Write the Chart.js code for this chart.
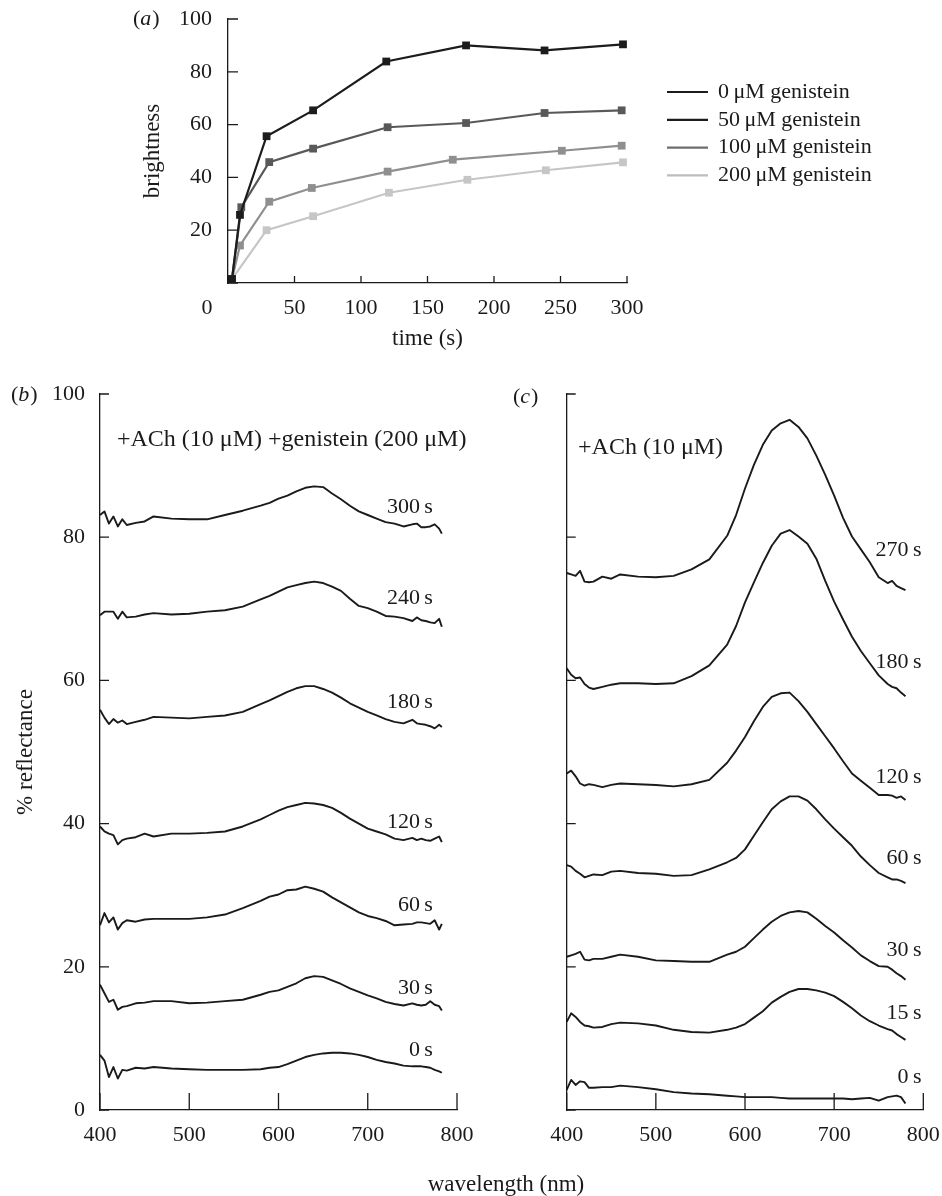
<!DOCTYPE html>
<html>
<head>
<meta charset="utf-8">
<script src="https://cdn.jsdelivr.net/npm/chart.js@4.4.0/dist/chart.umd.min.js"></script>
<style>
  body { margin: 0; background: #fff; }
  #wrap { position: relative; width: 942px; height: 1196px; }
  #wrap canvas { position: absolute; left: 0; top: 0; }
</style>
</head>
<body>
<div id="wrap">
  <canvas id="chartA" width="942" height="1196"></canvas>
  <canvas id="chartB" width="942" height="1196"></canvas>
  <canvas id="chartC" width="942" height="1196"></canvas>
</div>
<script>
// ---- panel (a): brightness vs time ----
const timeTicks = [0, 50, 100, 150, 200, 250, 300];
const brightTicks = [0, 20, 40, 60, 80, 100];
const genisteinLabels = ['0\u2009\u03bcM genistein', '50\u2009\u03bcM genistein', '100\u2009\u03bcM genistein', '200\u2009\u03bcM genistein'];

const time0 = [3, 9, 29, 64, 119, 179, 238, 297];
const bright0 = [1.5, 25.8, 55.6, 65.4, 83.9, 90.0, 88.1, 90.4];
const time50 = [3, 10, 31, 64, 120, 179, 238, 296];
const bright50 = [1.5, 28.7, 45.8, 50.9, 59.0, 60.6, 64.4, 65.4];
const time100 = [3, 9, 31, 63, 120, 169, 251, 296];
const bright100 = [1.5, 14.2, 30.8, 36.0, 42.2, 46.7, 50.1, 52.0];
const time200 = [3, 29, 64, 121, 180, 239, 297];
const bright200 = [1.5, 20.0, 25.3, 34.2, 39.1, 42.7, 45.7];

// ---- panels (b) and (c): % reflectance vs wavelength ----
const waveTicks = [400, 500, 600, 700, 800];
const reflTicks = [0, 20, 40, 60, 80, 100];

const bWave = [400,405,410,415,420,425,430,440,450,460,480,500,520,540,560,580,590,600,610,620,630,640,650,660,670,680,690,700,710,720,730,740,750,755,760,765,770,775,780,783];
const b0   = [7.7,6.9,4.6,6.0,4.4,5.6,5.5,5.9,5.8,6.0,5.8,5.7,5.6,5.6,5.6,5.7,5.9,6.0,6.4,6.9,7.4,7.7,7.9,8.0,8.0,7.9,7.7,7.4,7.0,6.7,6.5,6.2,6.1,6.1,6.1,6.0,5.9,5.6,5.4,5.2];
const b30  = [17.5,16.3,15.1,15.4,14.0,14.4,14.5,14.9,15.0,15.2,15.2,14.9,15.0,15.2,15.4,16.1,16.5,16.7,17.2,17.7,18.4,18.7,18.6,18.1,17.6,17.0,16.5,16.0,15.6,15.1,14.8,14.6,14.9,14.7,14.6,14.7,15.2,14.7,14.5,13.9];
const b60  = [25.8,27.5,26.2,26.9,25.2,26.1,26.5,26.3,26.6,26.7,26.7,26.7,26.9,27.3,28.2,29.2,29.8,30.1,30.7,30.8,31.2,30.9,30.5,29.7,29.0,28.3,27.6,27.1,26.8,26.4,25.8,25.9,26.0,26.2,26.2,26.1,26.0,26.5,25.2,26.0];
const b120 = [39.6,38.9,38.6,38.4,37.1,37.7,37.9,38.1,38.6,38.2,38.6,38.6,38.7,38.9,39.6,40.6,41.2,41.8,42.3,42.6,42.9,42.8,42.6,42.2,41.5,40.7,40.0,39.3,38.9,38.5,37.9,37.7,38.0,37.7,37.9,37.7,37.6,37.9,38.2,37.4];
const b180 = [55.9,54.8,53.9,54.6,54.1,54.4,53.9,54.2,54.5,54.9,54.8,54.7,54.9,55.1,55.6,56.7,57.2,57.8,58.4,58.9,59.2,59.2,58.8,58.3,57.6,56.8,56.2,55.6,55.1,54.6,54.2,54.0,54.5,54.0,53.9,53.8,53.6,53.3,53.8,53.5];
const b240 = [69.1,69.6,69.6,69.6,68.6,69.6,68.8,68.9,69.2,69.4,69.2,69.3,69.6,69.8,70.3,71.3,71.8,72.4,73.0,73.3,73.6,73.8,73.6,73.1,72.5,71.4,70.4,70.1,69.6,69.0,68.9,68.7,68.3,68.8,68.4,68.3,68.1,68.0,68.6,67.5];
const b300 = [83.1,83.6,81.9,82.9,81.5,82.5,81.7,82.0,82.2,82.9,82.6,82.5,82.5,83.1,83.7,84.4,84.8,85.4,85.8,86.4,86.9,87.1,87.0,86.1,85.3,84.4,83.6,83.1,82.6,82.1,81.9,81.5,81.8,81.9,81.4,81.4,81.5,81.8,81.2,80.5];
const bTimes = ['0\u2009s', '30\u2009s', '60\u2009s', '120\u2009s', '180\u2009s', '240\u2009s', '300\u2009s'];
const bLabelAt = [8.4, 17.0, 28.6, 40.2, 57.0, 71.5, 84.2];   // where each time label sits (% reflectance)

const cWave = [400,405,410,415,420,425,430,440,450,460,480,500,520,540,560,580,590,600,610,620,630,640,650,660,670,680,690,700,710,720,730,740,750,760,765,770,775,780];
const c0   = [2.8,4.2,3.5,4.0,3.9,3.1,3.1,3.2,3.2,3.4,3.2,2.9,2.5,2.3,2.2,2.0,1.9,1.8,1.8,1.8,1.8,1.7,1.6,1.6,1.6,1.6,1.6,1.6,1.6,1.5,1.6,1.7,1.3,1.8,1.9,2.0,1.8,0.9];
const c15  = [12.3,13.5,13.0,12.3,11.8,11.7,11.5,11.6,12.0,12.2,12.1,11.8,11.2,10.9,10.8,11.2,11.5,12.0,12.9,13.8,15.0,15.8,16.5,16.9,16.9,16.7,16.4,15.9,15.1,14.2,13.2,12.4,11.8,11.3,11.1,10.6,10.2,9.8];
const c30  = [21.4,21.6,21.8,22.1,21.0,20.9,21.1,21.1,21.4,21.7,21.4,20.9,20.8,20.7,20.7,21.7,22.1,22.8,24.0,25.2,26.3,27.1,27.6,27.8,27.6,26.7,25.7,24.8,23.7,22.7,21.6,20.8,20.1,20.0,19.6,19.1,18.7,18.2];
const c60  = [34.2,34.0,33.4,33.0,32.5,32.7,32.9,32.8,33.3,33.4,33.1,33.0,32.7,32.8,33.6,34.6,35.2,36.4,38.3,40.2,42.0,43.1,43.8,43.8,43.2,42.0,40.6,39.3,38.1,36.9,35.4,34.2,33.1,32.5,32.2,32.2,32.0,31.7];
const c120 = [47.0,47.4,46.6,45.6,45.3,45.5,45.4,45.1,45.4,45.6,45.5,45.4,45.2,45.5,46.1,48.5,50.2,52.1,54.3,56.3,57.7,58.2,58.3,57.1,55.6,53.9,52.2,50.5,48.7,47.0,46.0,45.0,44.0,44.0,43.9,43.6,43.8,43.3];
const c180 = [61.7,60.8,60.3,60.4,59.5,59.0,58.8,59.1,59.4,59.6,59.6,59.5,59.6,60.6,62.1,65.0,67.6,70.9,73.7,76.4,78.8,80.5,81.0,80.1,79.1,77.0,73.9,71.0,68.5,66.1,64.1,62.4,60.7,59.5,59.1,58.9,58.3,57.8];
const c270 = [75.0,74.8,74.6,75.3,73.8,73.7,73.8,74.5,74.2,74.8,74.5,74.4,74.6,75.5,76.9,80.2,83.1,86.8,90.1,92.9,94.9,95.9,96.4,95.4,93.8,91.4,88.7,85.8,82.7,80.1,78.3,76.5,74.4,73.6,73.9,73.2,72.9,72.6];
const cTimes = ['0\u2009s', '15\u2009s', '30\u2009s', '60\u2009s', '120\u2009s', '180\u2009s', '270\u2009s'];
const cLabelAt = [4.6, 13.5, 22.3, 35.2, 46.5, 62.6, 78.2];

const FONT = '"Liberation Serif", "Times New Roman", serif';
const INK = '#1a1a1a';
const lineColors = ['#1c1c1c', '#595959', '#8f8f8f', '#c6c6c6'];
const legendColors = ['#1c1c1c', '#1c1c1c', '#6e6e6e', '#bdbdbd'];

Chart.defaults.font.family = FONT;
Chart.defaults.color = INK;

function pts(xs, ys) {
    return ys.map((v, i) => ({ x: xs[i], y: v }));
}

// tick marks pointing into the plot
const inwardTicks = {
    id: 'inwardTicks',
    afterDraw(chart, args, opts) {
        const { ctx, chartArea: a, scales: { x, y } } = chart;
        ctx.save();
        ctx.strokeStyle = INK;
        ctx.lineWidth = 1.3;
        ctx.beginPath();
        x.ticks.forEach(t => {
            const px = x.getPixelForValue(t.value);
            ctx.moveTo(px, a.bottom);
            ctx.lineTo(px, a.bottom - opts.x);
        });
        y.ticks.forEach(t => {
            const py = y.getPixelForValue(t.value);
            ctx.moveTo(a.left, py);
            ctx.lineTo(a.left + opts.y, py);
        });
        ctx.stroke();
        ctx.restore();
    }
};

function panelLabel(ctx, letter, x, y) {
    ctx.save();
    ctx.fillStyle = INK;
    ctx.textBaseline = 'middle';
    ctx.textAlign = 'left';
    ctx.font = '22px ' + FONT;
    ctx.fillText('(', x, y);
    let w = ctx.measureText('(').width;
    ctx.font = 'italic 22px ' + FONT;
    ctx.fillText(letter, x + w, y);
    w += ctx.measureText(letter).width + 1;
    ctx.font = '22px ' + FONT;
    ctx.fillText(')', x + w, y);
    ctx.restore();
}

// texts for each panel
const panelText = {
    id: 'panelText',
    afterDraw(chart, args, opts) {
        const { ctx, scales: { x, y } } = chart;
        if (opts.letter) panelLabel(ctx, opts.letter, opts.letterAt[0], opts.letterAt[1]);
        ctx.save();
        ctx.fillStyle = INK;
        ctx.textBaseline = 'middle';
        (opts.items || []).forEach(it => {
            ctx.font = (it.size || 22) + 'px ' + FONT;
            ctx.textAlign = it.align || 'left';
            ctx.fillText(it.text, x.getPixelForValue(it.x) + (it.dx || 0), y.getPixelForValue(it.y) + (it.dy || 0));
        });
        (opts.pixelItems || []).forEach(it => {
            ctx.font = (it.size || 22) + 'px ' + FONT;
            ctx.textAlign = it.align || 'left';
            ctx.fillText(it.text, it.px, it.py);
        });
        ctx.restore();
    }
};

// legend of panel (a)
const legendA = {
    id: 'legendA',
    afterDraw(chart) {
        const { ctx } = chart;
        ctx.save();
        ctx.font = '22px ' + FONT;
        ctx.textBaseline = 'middle';
        ctx.textAlign = 'left';
        genisteinLabels.forEach((lab, i) => {
            const yy = 92 + i * 27.8;
            ctx.strokeStyle = legendColors[i];
            ctx.lineWidth = 2.2;
            ctx.beginPath();
            ctx.moveTo(667, yy);
            ctx.lineTo(708, yy);
            ctx.stroke();
            ctx.fillStyle = INK;
            ctx.fillText(lab, 718, yy);
        });
        ctx.restore();
    }
};

// the gap between axis and labels comes from an invisible tick mark,
// so ticks.padding stays 0 and does not push the chart area inwards
function axisBase(min, max, tickList, showLabels, gap, fitSize, horizontal) {
    return {
        type: 'linear',
        min: min,
        max: max,
        afterBuildTicks: s => { s.ticks = tickList.map(v => ({ value: v })); },
        afterFit: s => { if (horizontal) s.height = fitSize; else s.width = fitSize; },
        ticks: {
            display: showLabels,
            padding: 0,
            autoSkip: false,
            maxRotation: 0,
            font: { size: 22 },
            color: INK
        },
        grid: { drawOnChartArea: false, drawTicks: true, tickLength: gap, tickColor: 'rgba(0,0,0,0)' },
        border: { color: INK, width: 1.3 }
    };
}

// ---- chart (a) ----
const aSeries = [[time0, bright0], [time50, bright50], [time100, bright100], [time200, bright200]];
const axA = axisBase(0, 300, timeTicks, true, 12, 70, true);
axA.ticks.callback = v => (v === 0 ? '' : v);
axA.title = { display: true, text: 'time (s)', font: { size: 23 }, color: INK, padding: 0 };
const ayA = axisBase(0, 100, brightTicks, true, 16, 89, false);
ayA.ticks.callback = v => (v === 0 ? '' : v);
ayA.title = { display: true, text: 'brightness', font: { size: 23 }, color: INK, padding: 0 };

new Chart(document.getElementById('chartA'), {
    type: 'line',
    data: {
        datasets: aSeries.map((s, i) => ({
            label: genisteinLabels[i],
            data: pts(s[0], s[1]),
            borderColor: lineColors[i],
            backgroundColor: lineColors[i],
            borderWidth: 2.2,
            pointStyle: 'rect',
            pointRadius: 5.5,
            pointBorderWidth: 0,
            tension: 0,
            clip: 8
        }))
    },
    options: {
        responsive: false,
        animation: false,
        events: [],
        layout: { padding: { left: 139, top: 19, right: 315, bottom: 843 } },
        plugins: {
            legend: { display: false },
            tooltip: { enabled: false },
            inwardTicks: { x: 7, y: 10 },
            panelText: {
                letter: 'a', letterAt: [133, 19],
                items: [{ text: '0', x: 0, y: 0, align: 'center', dx: -21, dy: 25 }]
            }
        },
        scales: { x: axA, y: ayA }
    },
    plugins: [inwardTicks, panelText, legendA]
});

// ---- chart (b) ----
const bSeries = [b0, b30, b60, b120, b180, b240, b300];
const ayB = axisBase(0, 100, reflTicks, true, 15, 88, false);
ayB.title = { display: true, text: '% reflectance', font: { size: 23 }, color: INK, padding: 0 };

new Chart(document.getElementById('chartB'), {
    type: 'line',
    data: {
        datasets: bSeries.map((s, i) => ({
            label: bTimes[i],
            data: pts(bWave, s),
            borderColor: INK,
            borderWidth: 1.9,
            borderJoinStyle: 'round',
            pointRadius: 0,
            tension: 0
        }))
    },
    options: {
        responsive: false,
        animation: false,
        events: [],
        layout: { padding: { left: 12, top: 394, right: 485, bottom: 26 } },
        plugins: {
            legend: { display: false },
            tooltip: { enabled: false },
            inwardTicks: { x: 17, y: 9 },
            panelText: {
                letter: 'b', letterAt: [11, 395],
                items: bTimes.map((t, i) => ({ text: t, x: 773, y: bLabelAt[i], align: 'right' }))
                    .concat([{ text: '+ACh (10 \u03bcM) +genistein (200 \u03bcM)', x: 419, y: 93.6, size: 24 }])
            }
        },
        scales: { x: axisBase(400, 800, waveTicks, true, 12, 60, true), y: ayB }
    },
    plugins: [inwardTicks, panelText]
});

// ---- chart (c) ----
const cSeries = [c0, c15, c30, c60, c120, c180, c270];

new Chart(document.getElementById('chartC'), {
    type: 'line',
    data: {
        datasets: cSeries.map((s, i) => ({
            label: cTimes[i],
            data: pts(cWave, s),
            borderColor: INK,
            borderWidth: 1.9,
            borderJoinStyle: 'round',
            pointRadius: 0,
            tension: 0
        }))
    },
    options: {
        responsive: false,
        animation: false,
        events: [],
        layout: { padding: { left: 500, top: 394, right: 18.7, bottom: 26 } },
        plugins: {
            legend: { display: false },
            tooltip: { enabled: false },
            inwardTicks: { x: 17, y: 9 },
            panelText: {
                letter: 'c', letterAt: [513, 397],
                items: cTimes.map((t, i) => ({ text: t, x: 798, y: cLabelAt[i], align: 'right' }))
                    .concat([{ text: '+ACh (10 \u03bcM)', x: 412.7, y: 92.5, size: 24 }]),
                pixelItems: [{ text: 'wavelength (nm)', px: 506, py: 1185, align: 'center', size: 23 }]
            }
        },
        scales: { x: axisBase(400, 800, waveTicks, true, 12, 60, true), y: axisBase(0, 100, reflTicks, false, 15, 66.7, false) }
    },
    plugins: [inwardTicks, panelText]
});
</script>
</body>
</html>
